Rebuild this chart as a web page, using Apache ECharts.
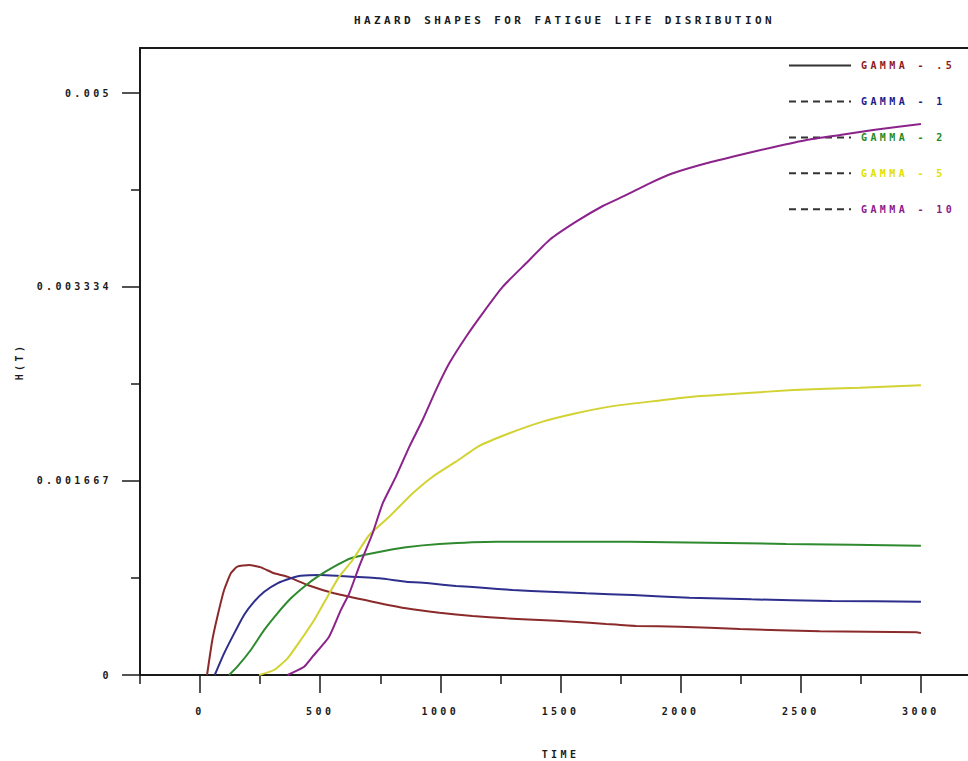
<!DOCTYPE html>
<html>
<head>
<meta charset="utf-8">
<script src="https://cdn.jsdelivr.net/npm/echarts@6/dist/echarts.min.js"></script>
<style>
  html, body { margin: 0; padding: 0; background: #fff; }
  #chart { width: 968px; height: 761px; }
  #chart text { letter-spacing: 3.4px; }
</style>
</head>
<body>
<div id="chart"></div>
<script>
// ---- data ----
const seriesNames = ['GAMMA - .5', 'GAMMA - 1', 'GAMMA - 2', 'GAMMA - 5', 'GAMMA - 10'];
const lineColors = ['#8B2A2A', '#2E2E8C', '#2F8A2F', '#D2D233', '#8B238B'];
const textColors = ['#8B1A1A', '#1A1A8B', '#1E8B1E', '#E0E000', '#8B1A8B'];

const gammaHalf = [[29,0],[51,0.000301],[72,0.000501],[100,0.00073],[128,0.000874],[155,0.000931],[204,0.000945],[253,0.000925],[308,0.000874],[363,0.000845],[447,0.000773],[558,0.000702],[718,0.00063],[857,0.000573],[996,0.000535],[1134,0.000507],[1274,0.000487],[1412,0.000473],[1551,0.000458],[1690,0.000438],[1815,0.000421],[1996,0.000415],[2246,0.000395],[2579,0.000375],[2982,0.000367],[3000,0.00036]];
const gammaOne = [[61,0],[100,0.000186],[142,0.000358],[183,0.000516],[225,0.00063],[267,0.000716],[322,0.000788],[378,0.000831],[419,0.000853],[503,0.000859],[579,0.000851],[746,0.000831],[857,0.000802],[954,0.000788],[1065,0.000765],[1176,0.00075],[1301,0.00073],[1454,0.000716],[1607,0.000702],[1801,0.000687],[2037,0.000664],[2294,0.00065],[2628,0.000636],[3000,0.00063]];
const gammaTwo = [[121,0],[155,0.0000713],[211,0.000215],[267,0.000387],[322,0.00053],[378,0.000659],[433,0.000759],[489,0.000845],[558,0.000931],[628,0.001003],[718,0.001046],[857,0.001097],[996,0.001126],[1232,0.001146],[1787,0.001146],[2440,0.001126],[3000,0.001111]];
const gammaFive = [[246,0],[308,0.000043],[364,0.000143],[419,0.000301],[475,0.000473],[530,0.000673],[579,0.000845],[635,0.000988],[704,0.001203],[787,0.00136],[885,0.001561],[968,0.001704],[1065,0.001833],[1162,0.001968],[1287,0.002077],[1426,0.002177],[1565,0.002249],[1704,0.002306],[1871,0.002349],[2051,0.002391],[2260,0.00242],[2468,0.002449],[2746,0.002469],[3000,0.002489]];
const gammaTen = [[364,0],[433,0.0000713],[468,0.000157],[537,0.000329],[586,0.000559],[621,0.000702],[662,0.000931],[718,0.001218],[760,0.001475],[815,0.001704],[871,0.001962],[926,0.002191],[982,0.00245],[1037,0.002678],[1107,0.002907],[1176,0.003108],[1260,0.003337],[1357,0.003538],[1454,0.003738],[1565,0.003895],[1676,0.00403],[1774,0.004125],[1871,0.004225],[1968,0.004311],[2107,0.004397],[2246,0.004468],[2385,0.004535],[2524,0.004597],[2663,0.00464],[2801,0.004683],[3000,0.004735]];
const allSeries = [gammaHalf, gammaOne, gammaTwo, gammaFive, gammaTen];

const xMajorTicks = [0, 500, 1000, 1500, 2000, 2500, 3000];
const xTickLabels = ['0', '500', '1000', '1500', '2000', '2500', '3000'];
const xMinorTicks = [-250, 250, 750, 1250, 1750, 2250, 2750];
const yMajorTicks = [0, 0.001667, 0.003334, 0.005];
const yTickLabels = ['0', '0.001667', '0.003334', '0.005'];
const yMinorTicks = [0.0008335, 0.0025005, 0.0041675];

// ---- chart ----
const FONT = 'DejaVu Sans Mono';
const INK = '#1a1a1a';
const yMax = 0.0053876;

function pick(ticks, labels) {
  return v => {
    const k = ticks.findIndex(t => Math.abs(t - v) < 1e-9 * Math.max(1, Math.abs(t)));
    return k >= 0 ? labels[k] : '';
  };
}

const chart = echarts.init(document.getElementById('chart'), null, { renderer: 'svg' });
chart.setOption({
  animation: false,
  backgroundColor: '#fff',
  title: {
    text: 'HAZARD SHAPES FOR FATIGUE LIFE DISRIBUTION',
    left: 349, top: 10,
    textStyle: { fontFamily: FONT, fontSize: 11, fontWeight: 'bold', color: INK }
  },
  legend: {
    orient: 'vertical', left: 788, top: 60, padding: 0,
    itemWidth: 62, itemHeight: 14, itemGap: 24.7,
    selectedMode: false,
    itemStyle: { opacity: 0 },
    textStyle: { fontFamily: FONT, fontSize: 10, fontWeight: 'bold', padding: [0, 0, 0, 5] },
    data: seriesNames.map((n, i) => ({
      name: n,
      textStyle: { color: textColors[i] },
      lineStyle: { color: '#333', width: 2, type: i === 0 ? 'solid' : [7, 5], opacity: 1 }
    }))
  },
  grid: { left: 140, top: 48, right: -13, bottom: 86, outerBoundsMode: 'none', containLabel: false },
  xAxis: [
    {
      type: 'value', min: -250, max: 3250, position: 'bottom',
      name: 'TIME', nameLocation: 'middle', nameGap: 74,
      nameTextStyle: { fontFamily: FONT, fontSize: 10, fontWeight: 'bold', color: INK },
      axisLine: { show: true, onZero: false, lineStyle: { color: INK, width: 2 } },
      axisTick: { show: true, length: 18, customValues: xMajorTicks, lineStyle: { color: INK, width: 1.5 } },
      axisLabel: { customValues: xMajorTicks, margin: 31, fontFamily: FONT, fontSize: 10, fontWeight: 'bold', color: INK,
        formatter: pick(xMajorTicks, xTickLabels) },
      splitLine: { show: false }
    },
    {
      type: 'value', min: -250, max: 3250, position: 'bottom',
      axisLine: { show: false, onZero: false },
      axisTick: { show: true, length: 9, customValues: xMinorTicks, lineStyle: { color: INK, width: 1.5 } },
      axisLabel: { show: false },
      splitLine: { show: false }
    },
    {
      type: 'value', min: -250, max: 3250, position: 'top',
      axisLine: { show: true, onZero: false, lineStyle: { color: INK, width: 2 } },
      axisTick: { show: false }, axisLabel: { show: false }, splitLine: { show: false }
    }
  ],
  yAxis: [
    {
      type: 'value', min: 0, max: yMax, position: 'left',
      name: 'H(T)', nameLocation: 'middle', nameGap: 116, nameRotate: 90,
      nameTextStyle: { fontFamily: FONT, fontSize: 10, fontWeight: 'bold', color: INK },
      axisLine: { show: true, onZero: false, lineStyle: { color: INK, width: 2 } },
      axisTick: { show: true, length: 18, customValues: yMajorTicks, lineStyle: { color: INK, width: 1.5 } },
      axisLabel: {
        customValues: yMajorTicks, margin: 28, fontFamily: FONT, fontSize: 10, fontWeight: 'bold', color: INK,
        formatter: pick(yMajorTicks, yTickLabels)
      },
      splitLine: { show: false }
    },
    {
      type: 'value', min: 0, max: yMax, position: 'left',
      axisLine: { show: false, onZero: false },
      axisTick: { show: true, length: 9, customValues: yMinorTicks, lineStyle: { color: INK, width: 1.5 } },
      axisLabel: { show: false },
      splitLine: { show: false }
    }
  ],
  series: allSeries.map((d, i) => ({
    name: seriesNames[i],
    type: 'line',
    data: d,
    symbol: 'none',
    smooth: 0.15,
    lineStyle: { color: lineColors[i], width: 2 },
    itemStyle: { color: lineColors[i] },
    z: 2 + i
  }))
});
</script>
</body>
</html>
